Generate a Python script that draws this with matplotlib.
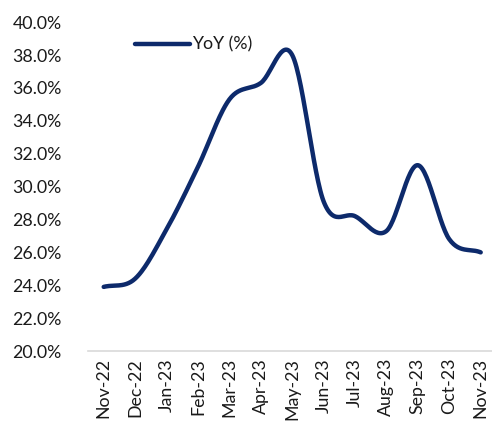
import matplotlib
matplotlib.use("Agg")
import matplotlib.pyplot as plt
from matplotlib.ticker import FuncFormatter
import numpy as np

months = ["Nov-22", "Dec-22", "Jan-23", "Feb-23", "Mar-23", "Apr-23", "May-23",
          "Jun-23", "Jul-23", "Aug-23", "Sep-23", "Oct-23", "Nov-23"]
yoy = [23.9, 24.4, 27.4, 31.2, 35.3, 36.3, 38.0, 29.1, 28.2, 27.3, 31.3, 26.8, 26.0]

plt.rcParams['font.family'] = ['Lato', 'DejaVu Sans']


def smooth(xs, ys, n=30):
    # Catmull-Rom style curve like Excel's "smoothed line"
    xs = np.asarray(xs, float)
    ys = np.asarray(ys, float)
    px = np.concatenate([[2 * xs[0] - xs[1]], xs, [2 * xs[-1] - xs[-2]]])
    py = np.concatenate([[2 * ys[0] - ys[1]], ys, [2 * ys[-1] - ys[-2]]])
    outx, outy = [], []
    for i in range(1, len(px) - 2):
        t = np.linspace(0, 1, n)
        for p, out in ((px, outx), (py, outy)):
            p0, p1, p2, p3 = p[i - 1], p[i], p[i + 1], p[i + 2]
            b1 = p1 + (p2 - p0) / 6
            b2 = p2 - (p3 - p1) / 6
            out.extend((1 - t) ** 3 * p1 + 3 * (1 - t) ** 2 * t * b1
                       + 3 * (1 - t) * t ** 2 * b2 + t ** 3 * p2)
    return np.array(outx), np.array(outy)


x = np.arange(len(months))
sx, sy = smooth(x, yoy)

fig = plt.figure(figsize=(4.92, 4.26), dpi=100)
ax = fig.add_axes([88 / 492, 0.176, 404 / 492, 0.772])
ax.plot(sx, sy, color="#0d2a6b", lw=3.2, solid_capstyle="round", label="YoY (%)")

ax.set_ylim(20, 40)
ax.set_yticks(np.arange(20, 40.1, 2))
ax.yaxis.set_major_formatter(FuncFormatter(lambda v, p: f"{v:.1f}%"))
ax.set_xlim(-0.5, 12.36)
ax.set_xticks(x)
ax.set_xticklabels(months, rotation=90)

for s in ["top", "right", "left"]:
    ax.spines[s].set_visible(False)
ax.spines["bottom"].set_color("#d9d9d9")
ax.spines["bottom"].set_linewidth(1.2)
ax.tick_params(axis="both", length=0, labelsize=12.8, colors="#1a1a1a")
ax.tick_params(axis="y", pad=19)
ax.tick_params(axis="x", pad=5)

ax.legend(loc="upper left", bbox_to_anchor=(0.116, 0.956), frameon=False,
          borderpad=0, borderaxespad=0,
          fontsize=12.8, handlelength=3.1, handletextpad=0.1, labelcolor="#1a1a1a")

fig.savefig("out.png", dpi=100)
